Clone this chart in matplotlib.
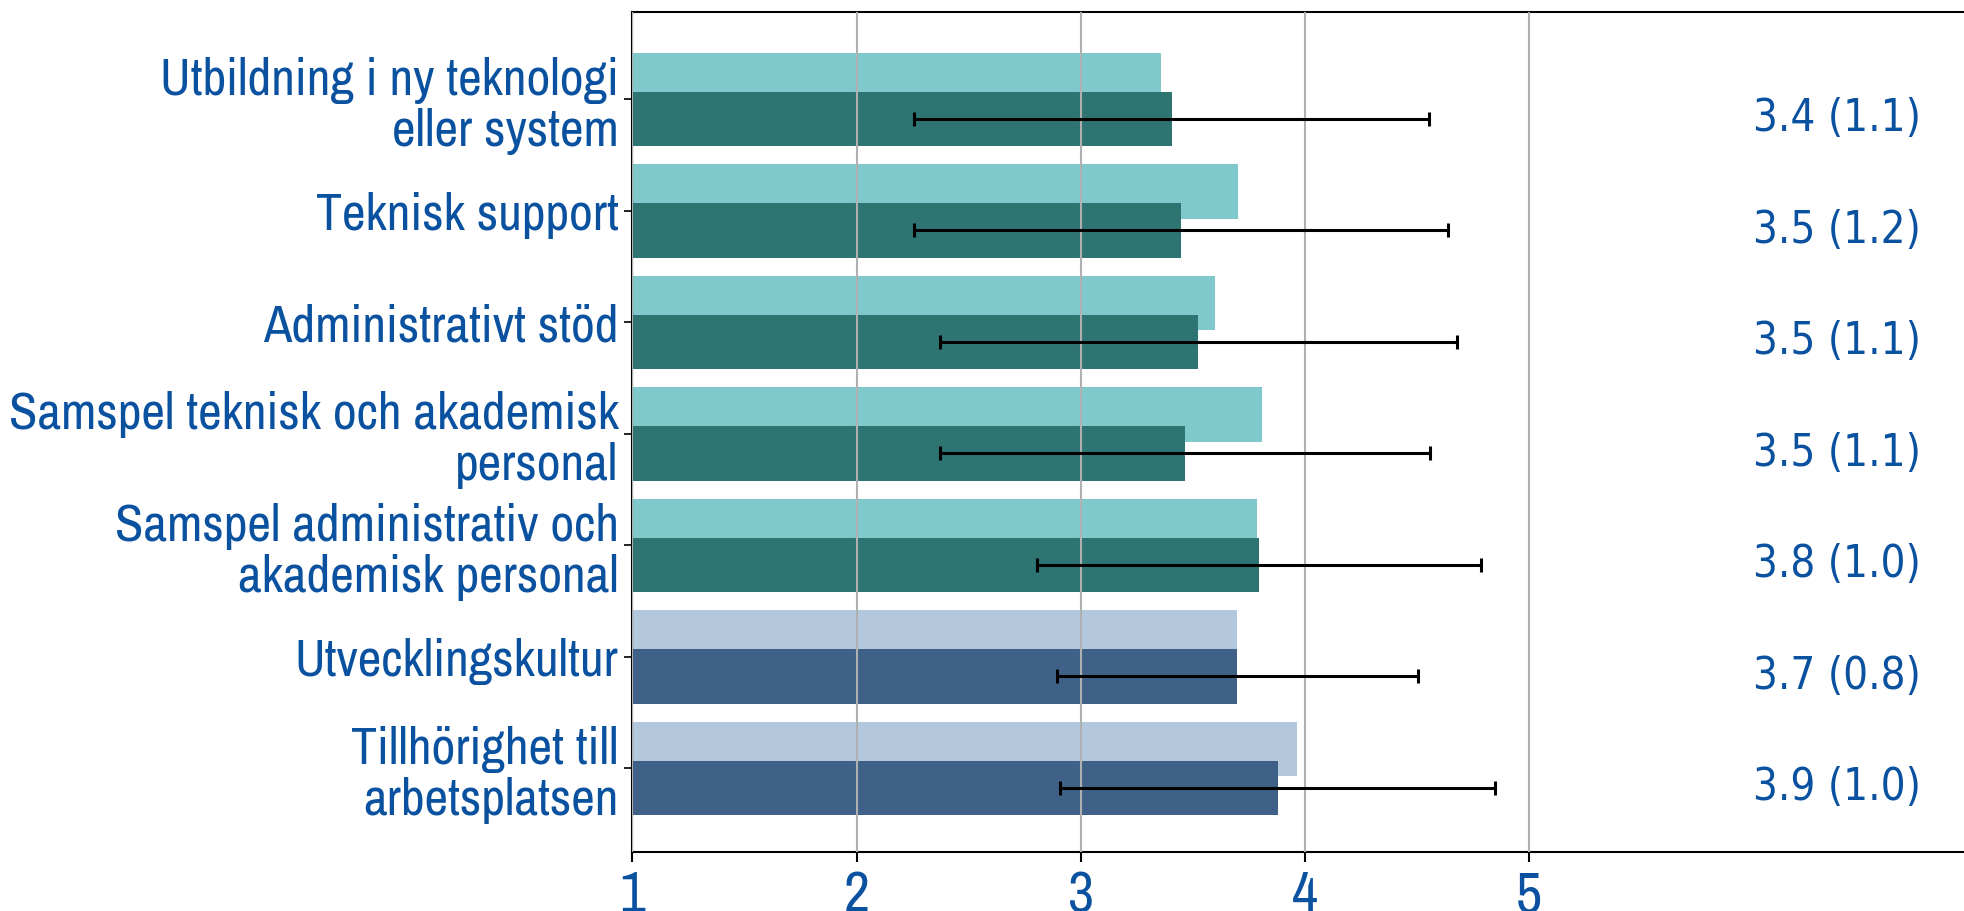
import numpy as np
import matplotlib
matplotlib.use("Agg")
import matplotlib.pyplot as plt
from matplotlib import font_manager as fm

categories = [
    "Utbildning i ny teknologi\neller system",
    "Teknisk support",
    "Administrativt stöd",
    "Samspel teknisk och akademisk\npersonal",
    "Samspel administrativ och\nakademisk personal",
    "Utvecklingskultur",
    "Tillhörighet till\narbetsplatsen",
]
reference_vals = [3.36, 3.70, 3.60, 3.81, 3.785, 3.695, 3.965]
mean_vals = [3.405, 3.447, 3.525, 3.465, 3.795, 3.698, 3.878]
sd_vals = [1.15, 1.19, 1.155, 1.095, 0.99, 0.805, 0.97]
value_labels = ["3.4 (1.1)", "3.5 (1.2)", "3.5 (1.1)", "3.5 (1.1)",
                "3.8 (1.0)", "3.7 (0.8)", "3.9 (1.0)"]
light_colors = ["#7fc9cc"] * 5 + ["#b3c7dd"] * 2
dark_colors = ["#2e7473"] * 5 + ["#3f6188"] * 2
x_ticks = [1, 2, 3, 4, 5]

text_blue = "#0a52a0"

avail = {f.name for f in fm.fontManager.ttflist}
narrow_pref = ["Liberation Sans Narrow", "Arial Narrow", "Nimbus Sans Narrow",
               "Archivo Narrow", "PT Sans Narrow", "Roboto Condensed",
               "Arimo", "Liberation Sans"]
narrow_font = next((f for f in narrow_pref if f in avail), "DejaVu Sans")
narrow = [narrow_font, "DejaVu Sans"]
dejavu_cond = any(f.name == "DejaVu Sans" and f.stretch == "condensed"
                  for f in fm.fontManager.ttflist)
val_stretch = "condensed" if dejavu_cond else "normal"

fig = plt.figure(figsize=(19.64, 9.11), dpi=100)
ax = fig.add_axes([0.322, 0.0648, 0.678, 0.9215])

y = np.arange(len(categories))
off = 0.175
h = 0.49
ax.barh(y - off, np.array(reference_vals) - 1, left=1, height=h,
        color=light_colors, zorder=1)
ax.barh(y + off, np.array(mean_vals) - 1, left=1, height=h,
        color=dark_colors, zorder=2)
ax.errorbar(mean_vals, y + off, xerr=sd_vals, fmt="none", ecolor="black",
            elinewidth=2.2, capsize=5, capthick=2.2, zorder=4)

val_texts = []
for yi, lab in zip(y, value_labels):
    val_texts.append(ax.text(6.0, yi + off, lab, ha="left", va="center",
                             color=text_blue, fontsize=26,
                             family="DejaVu Sans", fontstretch=val_stretch))

ax.set_xlim(1, 6.94)
ax.set_ylim(6.75, -0.78)
ax.set_xticks(x_ticks)
ax.set_xticklabels([str(t) for t in x_ticks])
ax.set_yticks(y)
ax.set_yticklabels(categories)
for t in ax.get_yticklabels():
    t.set_family(narrow)
    t.set_fontsize(34)
    t.set_color(text_blue)
for t in ax.get_xticklabels():
    t.set_family(narrow)
    t.set_fontsize(38)
    t.set_color(text_blue)

ax.tick_params(axis="x", length=7, width=1.5, pad=6)
ax.tick_params(axis="y", length=6, width=1.2, pad=4)
ax.grid(axis="x", color="#b0b0b0", linewidth=1.5, zorder=3)
ax.set_axisbelow(False)
for s in ["left", "top", "bottom"]:
    ax.spines[s].set_linewidth(1.5)
    ax.spines[s].set_color("black")
ax.spines["right"].set_visible(False)

# fit text sizes to the reference's measured widths / line gaps
fig.canvas.draw()
r = fig.canvas.get_renderer()
ylab = ax.get_yticklabels()
w3 = ylab[3].get_window_extent(r).width
ysize = 34 * 610.0 / w3
for t in ylab:
    t.set_fontsize(ysize)
for t in ax.get_xticklabels():
    t.set_fontsize(ysize * 1.1)
ls = 1.0
for _ in range(3):
    for t in ylab:
        t.set_linespacing(ls)
    fig.canvas.draw()
    gap = ylab[0].get_window_extent(r).height - ylab[1].get_window_extent(r).height
    ls = ls * 51.0 / gap
for t in ylab:
    t.set_linespacing(ls)
wv = val_texts[0].get_window_extent(r).width
vsize = 26 * 168.0 / wv
for t in val_texts:
    t.set_fontsize(vsize)

fig.savefig("out.png", dpi=100)
